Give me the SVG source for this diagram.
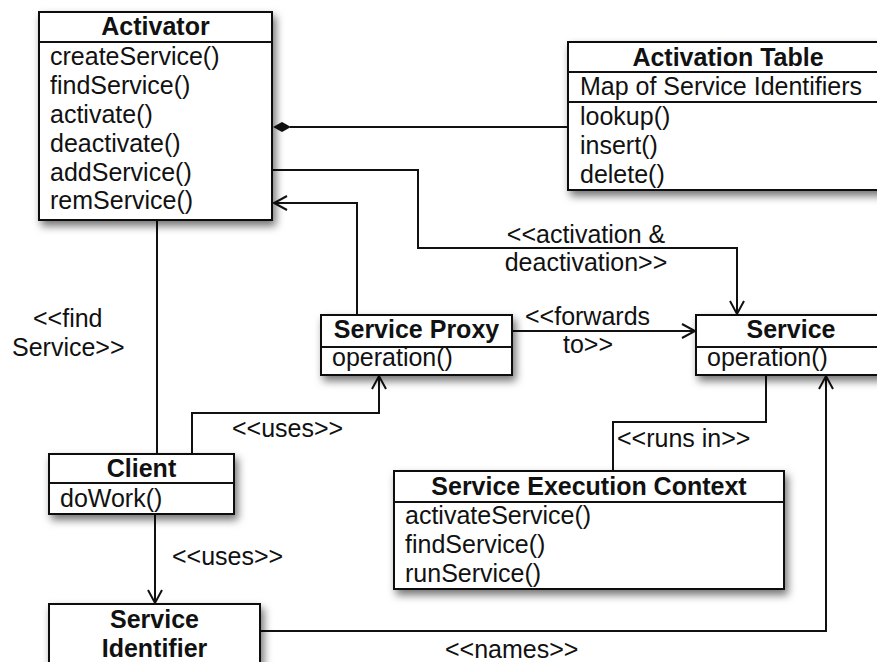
<svg xmlns="http://www.w3.org/2000/svg" width="877" height="662" viewBox="0 0 877 662">
  <style>
    text { font-family: "Liberation Sans", Arial, sans-serif; font-size: 25px; fill: #111; }
    .title { font-weight: bold; text-anchor: middle; }
    .box { fill: #fff; stroke: #111; stroke-width: 2; filter: url(#shadow); }
    .div { stroke: #111; stroke-width: 2; }
    .conn { fill: none; stroke: #111; stroke-width: 2; }
  </style>
  <defs>
    <filter id="shadow" x="-10%" y="-10%" width="130%" height="140%">
      <feDropShadow dx="3" dy="5" stdDeviation="4" flood-color="#000" flood-opacity="0.55"/>
    </filter>
    <marker id="open" markerUnits="userSpaceOnUse" markerWidth="18" markerHeight="18" refX="15" refY="9" orient="auto">
      <path d="M2,2 L15,9 L2,16" fill="none" stroke="#111" stroke-width="2"/>
    </marker>
  </defs>

  <rect width="877" height="662" fill="#fff"/>

  <!-- connectors -->
  <g id="connectors">
    <line class="conn" x1="290" y1="127" x2="568" y2="127"/>
    <polygon points="273,127 282,122 291,127 282,132" fill="#111"/>
    <path class="conn" d="M272,170 H418 V248 H737 V314" marker-end="url(#open)"/>
    <path class="conn" d="M357,315 V203 H274" marker-end="url(#open)"/>
    <path class="conn" d="M157,220 V454"/>
    <path class="conn" d="M192,454 V413 H379 V376" marker-end="url(#open)"/>
    <path class="conn" d="M512,331 H695" marker-end="url(#open)"/>
    <path class="conn" d="M766,375 V422 H613 V471"/>
    <path class="conn" d="M155,514 V603" marker-end="url(#open)"/>
    <path class="conn" d="M260,631 H826 V376" marker-end="url(#open)"/>

    <text x="586" y="243" text-anchor="middle">&lt;&lt;activation &amp;</text>
    <text x="586" y="271" text-anchor="middle">deactivation&gt;&gt;</text>
    <text x="33" y="327">&lt;&lt;find</text>
    <text x="12" y="356">Service&gt;&gt;</text>
    <text x="232" y="437">&lt;&lt;uses&gt;&gt;</text>
    <text x="525" y="325">&lt;&lt;forwards</text>
    <text x="563" y="353">to&gt;&gt;</text>
    <text x="617" y="447">&lt;&lt;runs in&gt;&gt;</text>
    <text x="172" y="565">&lt;&lt;uses&gt;&gt;</text>
    <text x="445" y="658">&lt;&lt;names&gt;&gt;</text>
  </g>

  <!-- Activator -->
  <g id="activator">
    <rect class="box" x="39" y="12" width="233" height="208"/>
    <line class="div" x1="39" y1="42" x2="272" y2="42"/>
    <text class="title" x="155.5" y="35">Activator</text>
    <text x="50" y="65">createService()</text>
    <text x="50" y="94">findService()</text>
    <text x="50" y="123">activate()</text>
    <text x="50" y="152">deactivate()</text>
    <text x="50" y="181">addService()</text>
    <text x="50" y="209">remService()</text>
  </g>

  <!-- Activation Table -->
  <g id="activation-table">
    <rect class="box" x="568" y="42" width="320" height="148"/>
    <line class="div" x1="568" y1="72" x2="888" y2="72"/>
    <line class="div" x1="568" y1="102" x2="888" y2="102"/>
    <text class="title" x="728" y="66">Activation Table</text>
    <text x="580" y="95">Map of Service Identifiers</text>
    <text x="580" y="125">lookup()</text>
    <text x="580" y="154">insert()</text>
    <text x="580" y="183">delete()</text>
  </g>

  <!-- Service Proxy -->
  <g id="service-proxy">
    <rect class="box" x="321" y="315" width="191" height="60"/>
    <line class="div" x1="321" y1="347" x2="512" y2="347"/>
    <text class="title" x="416.5" y="338">Service Proxy</text>
    <text x="332" y="366">operation()</text>
  </g>

  <!-- Service -->
  <g id="service">
    <rect class="box" x="696" y="315" width="190" height="60"/>
    <line class="div" x1="696" y1="347" x2="886" y2="347"/>
    <text class="title" x="791" y="338">Service</text>
    <text x="707" y="366">operation()</text>
  </g>

  <!-- Client -->
  <g id="client">
    <rect class="box" x="49" y="454" width="185" height="60"/>
    <line class="div" x1="49" y1="483" x2="234" y2="483"/>
    <text class="title" x="141.5" y="477">Client</text>
    <text x="60" y="507">doWork()</text>
  </g>

  <!-- Service Execution Context -->
  <g id="service-execution-context">
    <rect class="box" x="394" y="471" width="390" height="118"/>
    <line class="div" x1="394" y1="502" x2="784" y2="502"/>
    <text class="title" x="589" y="495">Service Execution Context</text>
    <text x="405" y="524">activateService()</text>
    <text x="405" y="553">findService()</text>
    <text x="405" y="582">runService()</text>
  </g>

  <!-- Service Identifier -->
  <g id="service-identifier">
    <rect class="box" x="49" y="604" width="211" height="80"/>
    <text class="title" x="154.5" y="628">Service</text>
    <text class="title" x="154.5" y="657">Identifier</text>
  </g>
</svg>
